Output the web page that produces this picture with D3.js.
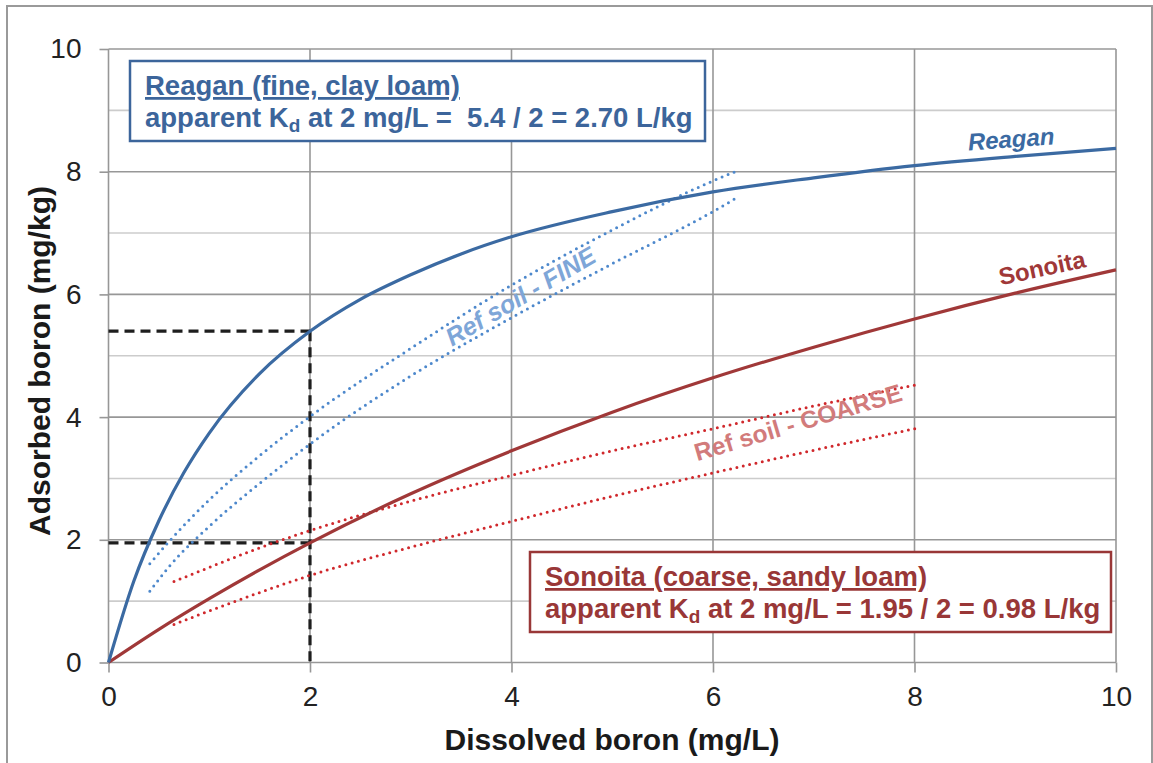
<!DOCTYPE html>
<html><head><meta charset="utf-8">
<script src="https://cdn.jsdelivr.net/npm/d3@7"></script>
<style>
body{margin:0;background:#fff}
svg{display:block}
text{font-family:"Liberation Sans",Arial,Helvetica,sans-serif}
</style>
</head><body>
<svg id="chart" width="1153" height="763"></svg>
<script>
// Axis ticks
const xTicks = [0, 2, 4, 6, 8, 10];
const yTicks = [0, 2, 4, 6, 8, 10];
const yGrid = [0, 1, 2, 3, 4, 5, 6, 7, 8, 9, 10];

// Adsorption isotherms (dissolved mg/L -> adsorbed mg/kg)
const reaganX = [0, 0.25, 0.5, 0.75, 1, 1.5, 2, 2.5, 3, 3.5, 4, 5, 6, 7, 8, 9, 10];
const reaganY = [0, 1.32, 2.31, 3.10, 3.74, 4.71, 5.4, 5.92, 6.32, 6.66, 6.94, 7.35, 7.67, 7.90, 8.10, 8.25, 8.38];
const sonoitaX = [0, 0.5, 1, 1.5, 2, 3, 4, 5, 6, 7, 8, 9, 10];
const sonoitaY = [0, 0.54, 1.04, 1.51, 1.95, 2.75, 3.45, 4.08, 4.64, 5.14, 5.60, 6.02, 6.40];

// Reference soil envelopes
const fineX = [0.41, 0.6, 1, 1.5, 2, 3, 4, 5, 6, 6.22];
const fineUpperY = [1.61, 1.97, 2.65, 3.37, 4.01, 5.12, 6.15, 7.05, 7.85, 8.00];
const fineLowerY = [1.16, 1.56, 2.22, 2.92, 3.56, 4.67, 5.62, 6.50, 7.35, 7.56];
const coarseX = [0.65, 1, 1.5, 2, 3, 4, 5, 6, 7, 8.03];
const coarseUpperY = [1.32, 1.55, 1.87, 2.15, 2.63, 3.05, 3.45, 3.81, 4.18, 4.53];
const coarseLowerY = [0.62, 0.84, 1.14, 1.42, 1.88, 2.30, 2.71, 3.09, 3.46, 3.82];

// Apparent Kd read-off at 2 mg/L
const kdConc = 2;
const reaganAtKd = 5.4;
const sonoitaAtKd = 1.95;

const svg = d3.select("#chart");
const x = d3.scaleLinear().domain([0, 10]).range([108.5, 1116]);
const y = d3.scaleLinear().domain([0, 10]).range([662.5, 49]);

const blue = "#3b6aa2", red = "#a03838";

// outer frame
svg.append("rect").attr("x", 7).attr("y", 6).attr("width", 1145).attr("height", 800)
  .attr("fill", "none").attr("stroke", "#9a9a9a").attr("stroke-width", 2);

// horizontal grid
svg.append("g").selectAll("line").data(yGrid).join("line")
  .attr("x1", x(0)).attr("x2", x(10))
  .attr("y1", d => y(d)).attr("y2", d => y(d))
  .attr("stroke", d => d % 2 === 0 ? "#979797" : "#cccccc")
  .attr("stroke-width", 1.6);

// vertical grid
svg.append("g").selectAll("line").data(xTicks).join("line")
  .attr("y1", y(0)).attr("y2", y(10))
  .attr("x1", d => x(d)).attr("x2", d => x(d))
  .attr("stroke", "#979797").attr("stroke-width", 1.6);

// axes
const yAxis = svg.append("g").attr("transform", `translate(${x(0)},0)`)
  .call(d3.axisLeft(y).tickValues(yTicks).tickSize(9).tickPadding(18).tickFormat(d3.format("d")));
const xAxis = svg.append("g").attr("transform", `translate(0,${y(0)})`)
  .call(d3.axisBottom(x).tickValues(xTicks).tickSize(10).tickPadding(14).tickFormat(d3.format("d")));
[yAxis, xAxis].forEach(g => {
  g.select(".domain").remove();
  g.selectAll(".tick line").attr("stroke", "#979797").attr("stroke-width", 1.6);
  g.selectAll(".tick text").attr("font-size", 28).attr("fill", "#222")
    .attr("font-family", "'Liberation Sans', Arial, sans-serif");
});

// axis titles
svg.append("text").attr("x", 612).attr("y", 750).attr("text-anchor", "middle")
  .attr("font-size", 30).attr("font-weight", "bold").attr("fill", "#1a1a1a")
  .text("Dissolved boron (mg/L)");
svg.append("text").attr("transform", "translate(50,361) rotate(-90)").attr("text-anchor", "middle")
  .attr("font-size", 30).attr("font-weight", "bold").attr("fill", "#1a1a1a")
  .text("Adsorbed boron (mg/kg)");

// Kd guide lines
const guides = [
  [[0, reaganAtKd], [kdConc, reaganAtKd]],
  [[kdConc, reaganAtKd], [kdConc, 0]],
  [[0, sonoitaAtKd], [kdConc, sonoitaAtKd]]
];
svg.append("g").selectAll("line").data(guides).join("line")
  .attr("x1", d => x(d[0][0])).attr("y1", d => y(d[0][1]))
  .attr("x2", d => x(d[1][0])).attr("y2", d => y(d[1][1]))
  .attr("stroke", "#1e1e1e").attr("stroke-width", 3.2).attr("stroke-dasharray", "10,6");

const line = d3.line().x(d => x(d[0])).y(d => y(d[1])).curve(d3.curveMonotoneX);
const zip = (xs, ys) => xs.map((v, i) => [v, ys[i]]);

// reference soil dotted envelopes
const dotted = [
  {pts: zip(fineX, fineUpperY), color: "#4d88cc"},
  {pts: zip(fineX, fineLowerY), color: "#4d88cc"},
  {pts: zip(coarseX, coarseUpperY), color: "#d0282c"},
  {pts: zip(coarseX, coarseLowerY), color: "#d0282c"}
];
svg.append("g").selectAll("path").data(dotted).join("path")
  .attr("d", d => line(d.pts)).attr("fill", "none")
  .attr("stroke", d => d.color).attr("stroke-width", 3)
  .attr("stroke-linecap", "round").attr("stroke-dasharray", "0,6.5");

// isotherm curves
svg.append("path").attr("d", line(zip(sonoitaX, sonoitaY)))
  .attr("fill", "none").attr("stroke", red).attr("stroke-width", 3.2);
svg.append("path").attr("d", line(zip(reaganX, reaganY)))
  .attr("fill", "none").attr("stroke", blue).attr("stroke-width", 3.2);

// curve labels
function label(txt, cx, cy, ang, opts) {
  svg.append("text")
    .attr("transform", `translate(${x(cx)},${y(cy)}) rotate(${ang})`)
    .attr("text-anchor", "middle").attr("dominant-baseline", "middle")
    .attr("font-size", opts.size).attr("font-weight", opts.weight || "bold")
    .attr("font-style", opts.italic ? "italic" : "normal")
    .attr("fill", opts.color).text(txt);
}
label("Reagan", 8.96, 8.5, -4, {size: 24, color: blue, italic: true});
label("Sonoita", 9.27, 6.4, -12, {size: 24, color: red});
label("Ref soil - FINE", 4.1, 5.94, -30.5, {size: 25, color: "#7ea6d8", italic: true});
label("Ref soil - COARSE", 6.85, 3.88, -16.5, {size: 24.5, color: "#d27b7b"});

// annotation boxes
function infoBox(bx, by, bw, bh, color, title, value) {
  const g = svg.append("g");
  g.append("rect").attr("x", bx).attr("y", by).attr("width", bw).attr("height", bh)
    .attr("fill", "#fff").attr("stroke", color).attr("stroke-width", 2.5);
  g.append("text").attr("x", bx + 15).attr("y", by + 34)
    .attr("font-size", 27.5).attr("font-weight", "bold").attr("fill", color)
    .attr("text-decoration", "underline").text(title);
  const t = g.append("text").attr("x", bx + 15).attr("y", by + 66)
    .attr("font-size", 27.5).attr("font-weight", "bold").attr("fill", color);
  t.append("tspan").text("apparent K");
  t.append("tspan").attr("font-size", 19).attr("dy", 5).text("d");
  t.append("tspan").attr("dy", -5).attr("xml:space", "preserve").text(value);
}
infoBox(130, 61, 575, 80, "#3c659b", "Reagan (fine, clay loam)",
  " at 2 mg/L =  5.4 / 2 = 2.70 L/kg");
infoBox(530, 552, 581, 80, "#993737", "Sonoita (coarse, sandy loam)",
  " at 2 mg/L = 1.95 / 2 = 0.98 L/kg");
</script>
</body></html>
